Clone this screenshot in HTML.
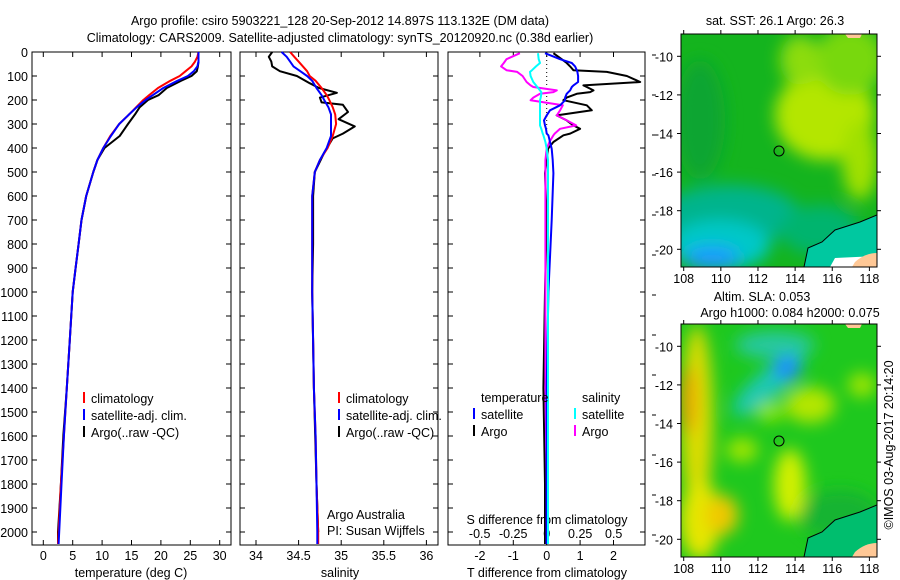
<!DOCTYPE html>
<html><head><meta charset="utf-8"><style>
body{margin:0;background:#fff}
svg{display:block;font-family:"Liberation Sans",sans-serif}
text{font-size:12.5px;fill:#000}
</style></head><body>
<svg id="c" width="900" height="580" viewBox="0 0 900 580">
<defs>
<filter id="bl" x="-50%" y="-50%" width="200%" height="200%"><feGaussianBlur stdDeviation="8"/></filter>
<clipPath id="m1"><rect x="681" y="34" width="196" height="233"/></clipPath>
<clipPath id="m2"><rect x="681" y="324" width="196" height="233"/></clipPath>
</defs>
<text x="340" y="25" text-anchor="middle">Argo profile: csiro 5903221_128 20-Sep-2012 14.897S 113.132E (DM data)</text>
<text x="340" y="42" text-anchor="middle">Climatology: CARS2009. Satellite-adjusted climatology: synTS_20120920.nc (0.38d earlier)</text>

<g id="map1" clip-path="url(#m1)">
<rect x="681" y="34" width="196" height="233" fill="#14b41e"/>
<g filter="url(#bl)">
<ellipse cx="825" cy="115" rx="50" ry="45" fill="#b4e600"/>
<ellipse cx="850" cy="60" rx="35" ry="35" fill="#78d80a"/>
<ellipse cx="800" cy="60" rx="20" ry="25" fill="#8cdc0a"/>
<ellipse cx="860" cy="160" rx="18" ry="40" fill="#a0e000"/>
<ellipse cx="700" cy="120" rx="25" ry="60" fill="#0fa532"/>
<ellipse cx="730" cy="215" rx="70" ry="30" fill="#00b48c"/>
<ellipse cx="720" cy="245" rx="50" ry="25" fill="#00c8c8"/>
<ellipse cx="712" cy="258" rx="28" ry="12" fill="#1e9bff"/>
<ellipse cx="820" cy="230" rx="40" ry="25" fill="#00b46e"/>
</g>
<path d="M877,215 L860,222 L835,230 L822,242 L808,248 L804,267 L877,267 Z" fill="#00c8a0"/>
<path d="M835,258 L877,256 L877,267 L830,267 Z" fill="#ffffff"/>
<path d="M855,262 Q865,253 877,253 L877,267 L852,267 Z" fill="#ffc896"/>
<path d="M845,34 L862,34 L860,38 L848,38 Z" fill="#ffc896"/>
<path d="M877,215 L860,222 L835,230 L822,242 L808,248 L804,267" fill="none" stroke="#000" stroke-width="1"/>
</g>
<rect x="681" y="34" width="196" height="233" fill="none" stroke="#000"/>
<circle cx="779" cy="151" r="5" fill="none" stroke="#000"/>
<text x="775" y="25" text-anchor="middle">sat. SST: 26.1 Argo: 26.3</text>

<g id="map2" clip-path="url(#m2)">
<rect x="681" y="324" width="196" height="233" fill="#1ec81e"/>
<g filter="url(#bl)">
<ellipse cx="697" cy="420" rx="16" ry="95" fill="#dcdc00"/>
<ellipse cx="688" cy="400" rx="8" ry="35" fill="#f0a000"/>
<ellipse cx="700" cy="520" rx="20" ry="40" fill="#e6e600"/>
<ellipse cx="722" cy="515" rx="16" ry="20" fill="#f0c800"/>
<ellipse cx="775" cy="345" rx="40" ry="14" fill="#28c8a0"/>
<ellipse cx="768" cy="385" rx="45" ry="14" fill="#1ec8b4" transform="rotate(-40 768 385)"/>
<ellipse cx="787" cy="368" rx="14" ry="12" fill="#1e8cff"/>
<ellipse cx="810" cy="405" rx="25" ry="18" fill="#b4e600"/>
<ellipse cx="770" cy="412" rx="14" ry="10" fill="#8ce600"/>
<ellipse cx="862" cy="385" rx="14" ry="12" fill="#a0e600"/>
<ellipse cx="742" cy="450" rx="16" ry="12" fill="#a0e600"/>
<ellipse cx="790" cy="485" rx="16" ry="36" fill="#d2f000"/>
<ellipse cx="840" cy="515" rx="40" ry="25" fill="#14b432"/>
</g>
<path d="M877,505 L860,512 L835,520 L822,532 L808,538 L804,557 L877,557 Z" fill="#00be6e"/>
<path d="M855,552 Q865,543 877,543 L877,557 L852,557 Z" fill="#ffc896"/>
<path d="M845,324 L862,324 L860,328 L848,328 Z" fill="#ffc896"/>
<path d="M877,505 L860,512 L835,520 L822,532 L808,538 L804,557" fill="none" stroke="#000" stroke-width="1"/>
</g>
<rect x="681" y="324" width="196" height="233" fill="none" stroke="#000"/>
<circle cx="779" cy="441" r="5" fill="none" stroke="#000"/>
<text x="762" y="301" text-anchor="middle">Altim. SLA: 0.053</text>
<text x="790" y="317" text-anchor="middle">Argo h1000: 0.084 h2000: 0.075</text>
<text transform="translate(893,445) rotate(-90)" text-anchor="middle">©IMOS 03-Aug-2017 20:14:20</text>
<g id="dyn"></g>
</svg>
<script>
// ---- data ----
const depths = [0,20,40,60,80,100,120,150,180,200,230,260,300,350,400,450,500,600,700,800,900,1000,1200,1400,1600,1800,2000,2050];
const tClim  = [26.4,26.2,25.8,25.2,24.2,23.2,21.6,19.5,18.0,17.0,15.8,14.6,12.9,11.4,10.2,9.2,8.5,7.3,6.5,6.0,5.5,5.0,4.5,4.0,3.5,3.0,2.6,2.5];
const tSat   = [26.4,26.4,26.4,26.2,25.6,24.6,22.8,20.4,18.6,17.4,15.9,14.6,12.9,11.5,10.2,9.2,8.5,7.3,6.5,6.0,5.5,5.0,4.5,4.0,3.5,3.1,2.7,2.6];
const tArgo  = [26.4,26.4,26.4,26.3,26.1,25.2,23.4,21.0,19.6,17.8,16.4,15.6,14.4,13.0,10.4,9.2,8.5,7.3,6.5,6.0,5.5,5.0,4.5,4.0,3.4,3.0,2.5,2.5];
const sClim  = [34.40,34.45,34.50,34.55,34.60,34.63,34.70,34.77,34.83,34.86,34.90,34.93,34.94,34.90,34.84,34.75,34.69,34.66,34.66,34.66,34.66,34.66,34.67,34.68,34.70,34.71,34.73,34.73];
const sSat   = [34.30,34.36,34.40,34.44,34.52,34.60,34.66,34.71,34.77,34.80,34.85,34.88,34.88,34.88,34.83,34.75,34.69,34.66,34.66,34.66,34.66,34.66,34.67,34.68,34.70,34.71,34.72,34.72];
const aDepths = [0,20,40,60,80,100,130,150,170,190,210,220,250,280,310,340,360,420,500,600,800,1000,1400,1800,2000];
const sArgo   = [34.19,34.15,34.18,34.19,34.28,34.48,34.63,34.74,34.95,34.75,34.77,35.02,35.08,34.97,35.16,35.02,34.90,34.80,34.69,34.67,34.67,34.66,34.68,34.71,34.73];
const dDepths = [5,30,46,60,76,83,100,125,139,146,160,167,174,190,201,222,243,264,285,306,320,340,347,375,403,450,505,700,1000,1400,1800,2050];
const dTSat   = [-0.05,0.4,0.75,0.85,0.9,0.92,0.94,0.94,0.8,0.75,0.7,0.65,0.6,0.55,0.55,0.4,0.1,0.0,-0.08,-0.05,-0.02,0.0,0.05,0.1,0.15,0.18,0.2,0.15,0.05,0.0,0.0,0.0];
const dTArgo  = [0.2,0.45,0.6,0.7,0.8,1.8,2.4,2.8,1.1,1.2,1.4,1.3,0.9,0.6,0.5,1.2,1.35,0.3,0.6,0.8,1.0,0.7,0.5,0.2,0.04,0.0,-0.05,0.0,-0.05,-0.1,-0.05,-0.05];
const dSSat   = [-0.065,-0.06,-0.05,-0.08,-0.11,-0.125,-0.12,-0.1,-0.08,-0.07,-0.05,-0.04,-0.04,-0.045,-0.05,-0.05,-0.05,-0.05,-0.05,-0.05,-0.04,-0.03,-0.025,-0.01,0.0,0.01,0.01,0.01,0.01,0.01,0.01,0.01];
const dSArgo  = [-0.2,-0.3,-0.32,-0.34,-0.3,-0.22,-0.18,-0.15,-0.12,-0.1,0.075,0.05,-0.05,-0.1,-0.12,0.12,0.1,0.075,0.15,0.22,0.1,0.06,0.05,0.02,0.0,-0.01,-0.01,-0.01,-0.01,-0.01,0.0,0.0];
const depthTicks = [0,100,200,300,400,500,600,700,800,900,1000,1100,1200,1300,1400,1500,1600,1700,1800,1900,2000];
const tTicks = [0,5,10,15,20,25,30];
const sTicks = [34,34.5,35,35.5,36];
const dtTicks = [-2,-1,0,1,2];
const dsTicks = [-0.5,-0.25,0,0.25,0.5];
const lonTicks = [108,110,112,114,116,118];
const latTicks = [-10,-12,-14,-16,-18,-20];

// ---- scales ----
const Y = d => 52 + d*0.24;
const xT = t => 43.3 + t*5.88;
const xS = s => 256 + (s-34)*85.2;
const xDT = v => 546.7 + v*33.4;
const xDS = v => 546.7 + v*134;
const lonX = l => 683.7 + (l-108)*18.57;
const latY = (l,off) => off + 56.3 + (-10-l)*19.3;

const NS='http://www.w3.org/2000/svg';
const g=document.getElementById('dyn');
function mk(tag,attrs,parent){const e=document.createElementNS(NS,tag);for(const k in attrs)e.setAttribute(k,attrs[k]);(parent||g).appendChild(e);return e;}
function txt(x,y,s,anchor,parent){const e=mk('text',{x:x,y:y,'text-anchor':anchor||'start'},parent);e.textContent=s;return e;}

function panel(name,x0,x1){
  const r=mk('rect',{x:x0,y:52,width:x1-x0,height:493,fill:'none',stroke:'#000'});
  
  
  depthTicks.forEach(d=>{
    const l1=mk('line',{x1:x0,x2:x0+5,y1:Y(d),y2:Y(d),stroke:'#000'});
    
    
    const l2=mk('line',{x1:x1-5,x2:x1,y1:Y(d),y2:Y(d),stroke:'#000'});
    
    
  });
}
function xticks(name,ticks,f,labels){
  ticks.forEach((t,i)=>{
    const a=mk('line',{x1:f(t),x2:f(t),y1:545,y2:540,stroke:'#000'});
    
    
    const b=mk('line',{x1:f(t),x2:f(t),y1:52,y2:57,stroke:'#000'});
    
    
    const l=txt(f(t),560,labels?labels[i]:String(t),'middle');
    
    
  });
}
function line(name,xs,ds,fx,color,w){
  const p=xs.map((v,i)=>(i?'L':'M')+fx(v).toFixed(1)+','+Y(ds[i]).toFixed(1)).join(' ');
  const e=mk('path',{d:p,fill:'none',stroke:color,'stroke-width':w||2,'stroke-linejoin':'round'});
  
  
}
function legend(name,x,y,color,label){
  const m=mk('line',{x1:x,x2:x,y1:y-11,y2:y,stroke:color,'stroke-width':2});
  
  
  const t=txt(x+7,y,label);
  
  
}

// depth labels
depthTicks.forEach(d=>{
  const t=txt(28,Y(d)+5,String(d),'end');
  
  
});

// panel 1 temperature
panel('temperature-panel',32,231);
xticks('temperature',tTicks,xT);
let t=txt(131,577,'temperature (deg C)','middle');


line('temp-argo',tArgo,depths,xT,'#000');
line('temp-climatology',tClim,depths,xT,'#f00');
line('temp-satellite',tSat,depths,xT,'#00f');
legend('legend-climatology',84,403,'#f00','climatology');
legend('legend-satellite-adj',84,420,'#00f','satellite-adj. clim.');
legend('legend-argo',84,437,'#000','Argo(..raw -QC)');

// panel 2 salinity
panel('salinity-panel',240,438);
xticks('salinity',sTicks,xS,['34','34.5','35','35.5','36']);
t=txt(340,577,'salinity','middle');


line('sal-argo',sArgo,aDepths,xS,'#000');
line('sal-climatology',sClim,depths,xS,'#f00');
line('sal-satellite',sSat,depths,xS,'#00f');
legend('legend-sal-climatology',339,403,'#f00','climatology');
legend('legend-sal-satellite-adj',339,420,'#00f','satellite-adj. clim.');
legend('legend-sal-argo',339,437,'#000','Argo(..raw -QC)');
t=txt(327,519,'Argo Australia');


t=txt(327,535,'PI: Susan Wijffels');



// panel 3 differences
panel('difference-panel',448,645);
xticks('t-diff',dtTicks,xDT);
dsTicks.forEach(v=>{
  const l=txt(xDS(v),538,String(v),'middle');
  
  
});
t=txt(547,524,'S difference from climatology','middle');


t=txt(547,577,'T difference from climatology','middle');


for(let y=55;y<545;y+=40){
  const a=mk('line',{x1:652,x2:656,y1:y,y2:y,stroke:'#000'});
  
  
}
const z=mk('line',{x1:xDT(0),x2:xDT(0),y1:52,y2:130,stroke:'#000','stroke-dasharray':'1,3'});


line('dT-argo',dTArgo,dDepths,xDT,'#000');
line('dS-argo',dSArgo,dDepths,xDS,'#f0f');
line('dT-satellite',dTSat,dDepths,xDT,'#00f');
line('dS-satellite',dSSat,dDepths,xDS,'#0ff');
t=txt(481,402,'temperature');


t=txt(582,402,'salinity');


legend('legend-dT-satellite',474,419,'#00f','satellite');
legend('legend-dT-argo',474,436,'#000','Argo');
legend('legend-dS-satellite',575,419,'#0ff','satellite');
legend('legend-dS-argo',575,436,'#f0f','Argo');

// map axes
[0,290].forEach((off,mi)=>{
  const top=34+off, bot=267+off;
  lonTicks.forEach(l=>{
    const a=mk('line',{x1:lonX(l),x2:lonX(l),y1:top-4,y2:top,stroke:'#000'});
    
    
    const b=mk('line',{x1:lonX(l),x2:lonX(l),y1:bot,y2:bot+4,stroke:'#000'});
    
    
    const lb=txt(lonX(l),bot+16,String(l),'middle');
    
    
  });
  latTicks.forEach(l=>{
    const y=latY(l,off);
    const a=mk('line',{x1:677,x2:681,y1:y,y2:y,stroke:'#000'});
    
    
    const b=mk('line',{x1:877,x2:881,y1:y,y2:y,stroke:'#000'});
    
    
    const lb=txt(673,y+5,String(l),'end');
    
    
  });
});
</script>
</body></html>
